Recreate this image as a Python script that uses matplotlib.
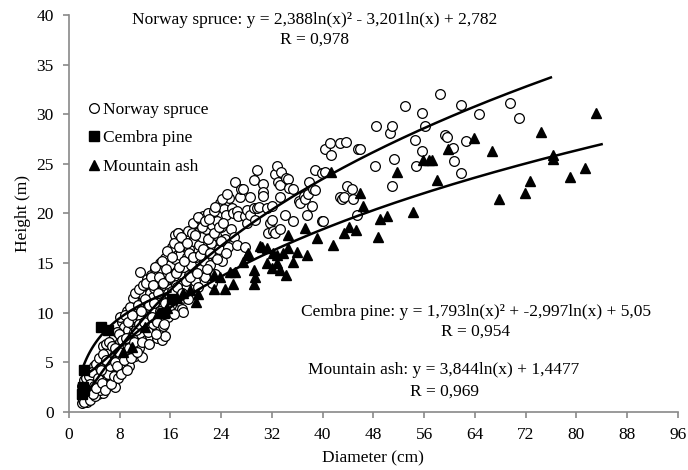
import matplotlib.pyplot as plt
import numpy as np

plt.rcParams['font.family'] = ['Liberation Serif', 'DejaVu Serif']

# Norway spruce (diameter cm, height m)
spruce_d = [2.0, 2.2, 2.4, 2.1, 2.5, 2.8, 3.0, 2.6, 3.0, 2.3, 3.2, 2.9,
            3.5, 3.6, 3.8, 4.0, 4.2, 3.7, 4.4, 4.5, 4.0, 3.4, 4.8, 4.6,
            5.0, 5.2, 5.4, 5.5, 5.1, 5.8, 6.0, 5.6, 6.2, 6.0, 5.3, 6.4, 6.5, 6.6,
            7.0, 7.3, 7.0, 7.2, 6.9, 7.4, 7.5, 7.6, 7.8, 7.1,
            8.0, 8.2, 8.0, 8.3, 8.5, 8.4, 8.7, 8.8, 8.1, 8.9, 8.6,
            9.0, 9.2, 9.3, 9.5, 9.4, 9.6, 9.8, 9.1, 9.7, 9.9,
            10.0, 10.2, 10.3, 10.5, 10.4, 10.6, 10.8, 10.1, 10.7, 10.9, 11.0,
            11.2, 11.3, 11.5, 11.4, 11.6, 11.8, 12.0, 12.2, 12.1, 12.4, 12.5, 12.3, 12.7, 12.8, 12.9,
            13.0, 13.2, 13.3, 13.5, 13.4, 13.6, 13.8, 14.0, 14.1, 14.3, 14.2, 14.5, 14.6, 14.7, 14.9, 15.1,
            15.0, 15.2, 15.3, 15.5, 15.6, 15.8, 15.9, 16.0, 16.2, 16.1, 16.4, 16.5, 16.7, 16.8, 16.9,
            17.0, 17.2, 17.3, 17.5, 17.6, 17.8, 18.0, 17.9, 18.2, 18.3, 18.5, 18.6, 18.8, 18.9,
            19.0, 19.2, 19.3, 19.5, 19.6, 19.8, 20.0, 20.1, 20.3, 20.5, 20.6, 20.8, 21.0,
            21.2, 21.3, 21.5, 21.6, 21.8, 22.0, 22.2, 22.4, 22.5, 22.8, 22.9, 23.0,
            23.2, 23.4, 23.6, 23.8, 24.0, 24.2, 24.4, 24.6, 24.8, 25.0, 25.2, 25.5, 25.7, 25.9, 26.2, 26.0,
            26.5, 26.7, 27.0, 27.2, 27.4, 27.8, 28.0, 28.0, 28.5, 28.5, 29.1, 29.1, 29.3, 29.6, 29.6, 29.9,
            30.6, 30.6, 30.6, 31.2, 31.4, 31.7, 32.0, 32.0, 32.2, 32.5, 32.5, 32.8, 33.0, 33.2, 33.3, 33.3,
            33.5, 34.1, 34.3, 34.6, 34.7, 35.4, 35.4, 36.2, 36.4, 37.0, 37.2, 37.5, 37.7, 37.9, 38.3, 38.5,
            38.8, 38.8, 39.9, 39.9, 40.1, 40.4, 40.4, 41.2, 41.4, 42.7, 42.7, 43.0, 43.3, 43.7, 43.8, 44.6,
            44.8, 45.4, 45.6, 26.5, 27.8, 16.7, 17.2,
            45.9, 48.3, 48.4, 50.6, 50.9, 50.9, 51.2, 53.0, 54.6, 54.7, 55.6, 55.6, 56.2, 58.5, 59.3, 59.6,
            60.5, 60.7, 61.8, 61.9, 62.6, 64.6, 69.6, 71.0]
spruce_h = [0.9, 1.2, 1.6, 2.0, 2.3, 1.0, 1.4, 2.6, 2.0, 2.8, 2.5, 3.0,
            1.5, 2.2, 3.0, 2.0, 3.5, 3.8, 2.8, 4.2, 4.6, 3.3, 3.0, 1.8,
            2.5, 3.6, 1.9, 4.5, 5.2, 3.2, 5.5, 6.3, 4.0, 2.8, 6.6, 6.0, 5.0, 3.5,
            3.0, 2.5, 4.5, 5.8, 6.8, 7.2, 4.0, 6.2, 5.2, 7.6,
            4.2, 5.5, 7.0, 8.0, 6.2, 9.0, 4.8, 7.5, 9.6, 5.8, 8.5,
            5.2, 6.8, 8.2, 9.5, 4.6, 7.5, 10.0, 10.2, 6.0, 8.8,
            6.5, 8.0, 9.2, 10.5, 5.6, 7.2, 11.0, 11.5, 8.6, 9.8, 6.4,
            14.1, 7.8, 5.5, 9.5, 11.8, 10.6, 12.8, 8.5, 7.2, 9.8, 11.2, 13.4, 12.0, 7.6, 10.4,
            13.8, 11.6, 8.8, 14.4, 12.5, 10.2, 7.4, 13.2, 11.0, 15.0, 9.4, 12.2, 7.2, 14.2, 10.6, 7.6,
            12.8, 15.5, 11.4, 13.9, 9.6, 16.2, 12.4, 14.8, 16.6, 10.8, 13.4, 11.8, 15.4, 17.6, 12.8,
            14.2, 18.0, 11.2, 15.8, 13.0, 10.4, 10.1, 16.8, 14.6, 17.4, 12.6, 15.6, 18.2, 13.8,
            16.4, 11.9, 14.8, 17.2, 19.0, 13.2, 15.6, 18.0, 12.6, 16.8, 19.4, 14.4, 17.6,
            19.7, 15.2, 13.6, 18.4, 16.2, 20.0, 14.8, 17.0, 18.8, 20.2, 15.8, 13.9,
            17.8, 19.2, 16.4, 21.0, 18.6, 15.2, 20.4, 17.4, 19.8, 16.6, 21.6, 18.4, 20.5, 20.0, 23.2, 17.6,
            20.2, 19.7, 21.7, 22.5, 22.5, 19.7, 20.3, 19.0, 21.7, 19.8, 23.4, 20.5, 19.3, 24.4, 20.5, 20.6,
            23.0, 22.2, 21.8, 20.5, 18.0, 19.0, 19.3, 20.7, 18.2, 24.0, 18.0, 24.8, 23.2, 18.4, 22.9, 21.7,
            24.2, 19.8, 23.6, 23.5, 22.6, 22.5, 19.2, 21.2, 21.0, 21.8, 21.4, 19.8, 22.0, 23.2, 20.7, 22.5,
            24.4, 22.4, 24.1, 19.2, 19.2, 26.5, 24.2, 27.1, 25.9, 27.1, 21.7, 21.5, 21.7, 27.2, 22.8, 22.5,
            21.5, 19.8, 26.5, 16.8, 16.6, 17.8, 18.0,
            26.5, 24.8, 28.8, 28.1, 28.8, 22.8, 25.5, 30.8, 27.4, 24.8, 30.1, 26.3, 28.8, 32.0, 27.9, 27.7,
            26.6, 25.3, 24.1, 30.9, 27.3, 30.0, 31.1, 29.6]

# more spruce trees in the dense cloud of small stems
spruce_dense_d = [2.0, 2.1, 2.3, 2.4, 2.6, 2.7, 2.8, 3.1, 3.3, 3.3,
                  3.6, 3.9, 4.1, 4.3, 4.5, 4.7, 4.9, 4.9, 3.8, 4.2,
                  5.2, 5.4, 5.6, 5.7, 5.9, 6.1, 6.3, 6.4, 6.7, 6.8, 5.0, 5.8,
                  7.1, 7.3, 7.5, 7.7, 7.9, 7.3, 7.6, 7.9, 8.2, 8.4, 8.6, 8.8,
                  9.0, 9.1, 9.3, 9.4, 9.6, 9.8, 10.0, 10.2, 10.4, 10.5, 10.7, 10.9,
                  11.0, 11.1, 11.3, 11.5, 11.7, 11.9, 12.0, 12.2, 12.4, 12.6, 12.9, 12.6,
                  13.1, 13.2, 13.4, 13.6, 13.8, 14.0, 14.2, 14.4, 14.6, 14.8, 14.9, 13.7,
                  15.1, 15.3, 15.4, 15.6, 15.8, 16.0, 16.2, 16.3, 16.5, 16.6, 16.8, 15.0,
                  17.1, 17.3, 17.4, 17.7, 17.9, 18.1, 18.4, 18.6, 18.8, 18.9,
                  19.1, 19.4, 19.6, 19.9, 20.2, 20.4, 20.7, 20.9, 21.1, 21.4, 21.7, 21.9,
                  22.1, 22.3, 22.6, 22.8, 23.1, 23.3, 23.6, 23.9, 24.1, 24.3, 24.7, 24.9]
spruce_dense_h = [1.5, 2.6, 1.0, 3.2, 1.8, 3.4, 2.2, 3.6, 1.2, 2.8,
                  4.0, 2.6, 1.6, 4.8, 3.4, 5.4, 2.2, 4.4, 1.8, 2.4,
                  2.9, 5.8, 4.0, 2.2, 6.8, 3.8, 7.0, 4.6, 2.8, 6.6, 4.2, 5.2,
                  3.6, 6.4, 8.0, 3.4, 7.8, 5.0, 4.6, 6.0, 3.8, 7.2, 5.2, 9.8,
                  7.4, 4.2, 9.0, 6.4, 10.6, 5.4, 9.8, 7.0, 12.0, 8.2, 6.0, 10.8,
                  8.8, 12.4, 10.2, 7.0, 12.8, 9.0, 11.4, 13.0, 8.0, 10.8, 13.6, 6.8,
                  9.6, 12.8, 11.0, 14.6, 9.0, 12.0, 13.6, 10.2, 15.2, 8.6, 13.0, 7.8,
                  11.0, 14.4, 16.2, 12.0, 10.4, 13.6, 15.6, 12.2, 17.0, 9.9, 14.0, 8.8,
                  12.6, 16.6, 14.6, 17.6, 12.0, 15.2, 13.2, 17.0, 11.4, 16.0,
                  13.6, 18.0, 15.6, 17.8, 14.0, 19.6, 15.8, 18.6, 16.4, 19.2, 14.4, 17.4,
                  19.4, 16.0, 13.0, 18.0, 20.6, 15.4, 18.6, 17.2, 21.4, 19.0, 16.0, 22.0]

# Cembra pine
pine_d = [2.3, 5.1, 6.2, 2.1, 2.2, 2.4, 16.2, 15.0]
pine_h = [4.2, 8.5, 8.2, 1.8, 2.5, 2.2, 11.4, 10.0]

# Mountain ash
ash_d = [8.5, 10.0, 12.0, 14.0, 15.5, 17.0, 18.0,
         19.1, 20.1, 20.4, 22.8, 22.8, 23.8, 24.6, 25.4, 25.9, 26.2, 27.5, 28.0, 28.3, 29.1, 29.1,
         29.3, 30.1, 30.4, 31.2, 31.2, 32.0, 32.1, 32.8, 32.8, 33.3, 33.8, 34.3, 34.6, 34.6, 35.4,
         35.9, 37.2, 37.5, 39.1, 41.4, 41.6, 43.3, 44.2, 45.3, 45.9, 46.4, 48.8, 49.1, 50.2, 51.7,
         54.3, 55.9, 56.7, 57.2, 58.0, 59.7, 63.8, 66.7, 67.8, 71.9, 72.7, 74.4, 76.4, 76.4, 79.0,
         81.4, 83.1]
ash_h = [6.0, 6.5, 8.5, 10.0, 10.5, 11.5, 12.0,
         12.3, 11.1, 11.9, 12.4, 13.8, 13.6, 12.4, 14.1, 12.9, 14.1, 15.1, 15.8, 16.0, 14.3, 12.9,
         13.6, 16.7, 16.6, 16.5, 15.0, 14.5, 16.0, 15.8, 15.0, 14.3, 16.0, 13.8, 17.8, 16.5, 15.1,
         16.1, 18.5, 15.8, 17.5, 24.2, 16.8, 18.0, 18.6, 18.3, 22.1, 20.7, 17.6, 19.4, 19.7, 24.2,
         20.1, 25.4, 25.4, 25.4, 23.4, 26.5, 27.6, 26.3, 21.5, 22.1, 23.3, 28.2, 25.9, 25.5, 23.7,
         24.6, 30.1]

# trend line coefficients as printed on the chart
spruce_coef = (2.388, -3.201, 2.782)
pine_coef = (1.793, -2.997, 5.05)
ash_coef = (3.844, 1.4477)

fs = 12.5
fig = plt.figure(figsize=(6.88, 4.70), dpi=100)
ax = fig.add_axes([0.1003, 0.124, 0.8847, 0.844])

ax.plot(spruce_d + spruce_dense_d, spruce_h + spruce_dense_h, 'o', ms=7, mfc='white', mec='black',
        mew=0.9, label='Norway spruce', zorder=2)
ax.plot(pine_d, pine_h, 's', ms=7, color='black', label='Cembra pine', zorder=3)
ax.plot(ash_d, ash_h, '^', ms=7, color='black', label='Mountain ash', zorder=3)

xs = np.linspace(2, 76, 200)
l = np.log(xs)
ax.plot(xs, spruce_coef[0] * l**2 + spruce_coef[1] * l + spruce_coef[2], color='black', lw=1.8, zorder=4)
xp = np.linspace(2, 84, 200)
l = np.log(xp)
ax.plot(xp, pine_coef[0] * l**2 + pine_coef[1] * l + pine_coef[2], color='black', lw=1.8, zorder=4)
xa = np.linspace(2.3, 16, 100)
ax.plot(xa, ash_coef[0] * np.log(xa) + ash_coef[1], color='black', lw=1.8, zorder=4)

ax.set_xlim(0, 96)
ax.set_ylim(0, 40)
ax.set_xticks(np.arange(0, 97, 8))
ax.set_yticks(np.arange(0, 41, 5))
for s in ['top', 'right']:
    ax.spines[s].set_visible(False)
for s in ['left', 'bottom']:
    ax.spines[s].set_color('#898989')
    ax.spines[s].set_linewidth(1.2)
ax.tick_params(colors='#898989', labelcolor='black', labelsize=fs, length=4, width=1.2, pad=7)
ax.set_xlabel('Diameter (cm)', fontsize=fs, labelpad=5)
ax.set_ylabel('Height (m)', fontsize=fs, labelpad=4)

ax.legend(loc='upper left', bbox_to_anchor=(89 / 688, 1 - 102 / 470), bbox_transform=fig.transFigure,
          frameon=False, fontsize=fs, handlelength=0.6, handletextpad=0.2, labelspacing=0.7,
          borderpad=0, borderaxespad=0)

fig.text(315 / 688, 1 - 20 / 470, 'Norway spruce: y = 2,388ln(x)² - 3,201ln(x) + 2,782',
         ha='center', va='center', fontsize=fs)
fig.text(314 / 688, 1 - 40 / 470, 'R = 0,978', ha='center', va='center', fontsize=fs)
fig.text(476 / 688, 1 - 312 / 470, 'Cembra pine: y = 1,793ln(x)² + -2,997ln(x) + 5,05',
         ha='center', va='center', fontsize=fs)
fig.text(476 / 688, 1 - 332 / 470, 'R = 0,954', ha='center', va='center', fontsize=fs)
fig.text(444 / 688, 1 - 370 / 470, 'Mountain ash: y = 3,844ln(x) + 1,4477',
         ha='center', va='center', fontsize=fs)
fig.text(444 / 688, 1 - 392 / 470, 'R = 0,969', ha='center', va='center', fontsize=fs)

plt.savefig('out.png', dpi=100)
